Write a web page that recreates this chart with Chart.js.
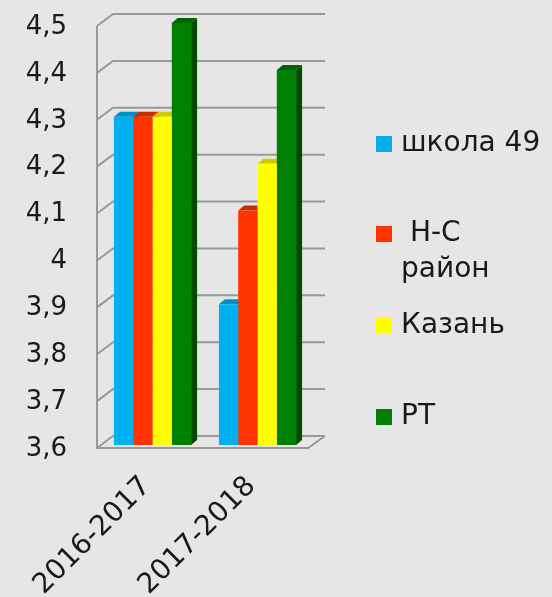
<!DOCTYPE html>
<html>
<head>
<meta charset="utf-8">
<script src="https://cdn.jsdelivr.net/npm/chart.js@4.4.0/dist/chart.umd.min.js"></script>
<style>
html,body{margin:0;padding:0;background:#e6e6e6;}
#wrap{width:552px;height:597px;position:relative;}
</style>
</head>
<body>
<div id="wrap"><canvas id="c"></canvas></div>
<script>
const categories = ['2016-2017', '2017-2018'];
const seriesNames = ['школа 49', ' Н-С район', 'Казань', 'РТ'];
const school49 = [4.3, 3.9];
const nsDistrict = [4.3, 4.1];
const kazan = [4.3, 4.2];
const rt = [4.5, 4.4];
const yTickLabels = ['3,6', '3,7', '3,8', '3,9', '4', '4,1', '4,2', '4,3', '4,4', '4,5'];

const frontColors = ['#00b0f0', '#ff3300', '#ffff00', '#008000'];
const topColors = ['#0090c8', '#cc2a00', '#cccc00', '#006400'];
const sideColors = ['#0078a8', '#a82200', '#a8a800', '#004d00'];
const FONT = 'DejaVu Sans';

const bgPlugin = {
  id: 'bg',
  beforeDraw(chart) {
    const ctx = chart.ctx;
    ctx.save();
    ctx.fillStyle = '#e6e6e6';
    ctx.fillRect(0, 0, chart.width, chart.height);
    ctx.restore();
  }
};

const wallPlugin = {
  id: 'wall',
  beforeDatasetsDraw(chart) {
    const ctx = chart.ctx;
    const y = chart.scales.y;
    const L = chart.chartArea.left, R = chart.chartArea.right;
    const B = chart.chartArea.bottom;
    ctx.save();
    ctx.strokeStyle = '#999999';
    ctx.lineWidth = 2;
    y.ticks.forEach(t => {
      const yp = y.getPixelForValue(t.value);
      ctx.beginPath();
      ctx.moveTo(L - 3, yp + 3);
      ctx.lineTo(L + 13, yp - 9);
      ctx.lineTo(R + 15, yp - 9);
      ctx.stroke();
    });
    const top = y.getPixelForValue(y.max) + 3;
    const bot = y.getPixelForValue(y.min) + 3;
    ctx.beginPath();
    ctx.moveTo(L - 3, top);
    ctx.lineTo(L - 3, bot);
    ctx.lineTo(R - 2, bot);
    ctx.lineTo(R + 15, bot - 12);
    ctx.stroke();
    const d = 6, dy = 5;
    chart.data.datasets.forEach((ds, i) => {
      const meta = chart.getDatasetMeta(i);
      meta.data.forEach(el => {
        const p = el.getProps(['x', 'y', 'base', 'width'], true);
        const base = Math.min(p.base, B);
        const l = p.x - p.width / 2, r = p.x + p.width / 2;
        ctx.fillStyle = sideColors[i];
        ctx.beginPath();
        ctx.moveTo(r, p.y);
        ctx.lineTo(r + d, p.y - dy);
        ctx.lineTo(r + d, base - dy);
        ctx.lineTo(r, base);
        ctx.closePath();
        ctx.fill();
        ctx.fillStyle = topColors[i];
        ctx.beginPath();
        ctx.moveTo(l, p.y);
        ctx.lineTo(l + d, p.y - dy);
        ctx.lineTo(r + d, p.y - dy);
        ctx.lineTo(r, p.y);
        ctx.closePath();
        ctx.fill();
      });
    });
    ctx.restore();
  }
};

const legendPlugin = {
  id: 'customLegend',
  afterDraw(chart) {
    const ctx = chart.ctx;
    ctx.save();
    ctx.font = '28px "' + FONT + '"';
    ctx.textBaseline = 'middle';
    const rows = [144, 234, 326, 417];
    const sqX = 376, txX = 401, lineH = 36, maxW = 140;
    chart.data.datasets.forEach((ds, i) => {
      const cy = rows[i];
      ctx.fillStyle = frontColors[i];
      ctx.fillRect(sqX, cy - 8, 16, 16);
      ctx.fillStyle = '#1a1a1a';
      const text = ds.label;
      const lines = [];
      if (ctx.measureText(text).width > maxW) {
        const idx = text.lastIndexOf(' ');
        lines.push(text.slice(0, idx));
        lines.push(text.slice(idx + 1));
      } else lines.push(text);
      lines.forEach((ln, k) => ctx.fillText(ln, txX, cy + k * lineH));
    });
    ctx.restore();
  }
};

const datasets = [school49, nsDistrict, kazan, rt].map((arr, i) => ({
  label: seriesNames[i],
  data: arr,
  backgroundColor: frontColors[i],
  borderWidth: 0,
  barPercentage: 1.0,
  categoryPercentage: 0.735
}));

new Chart(document.getElementById('c'), {
  type: 'bar',
  data: { labels: categories, datasets },
  options: {
    responsive: true,
    maintainAspectRatio: false,
    animation: false,
    layout: { padding: { top: 23, right: 242, left: 0, bottom: 0 } },
    plugins: { legend: { display: false }, tooltip: { enabled: false } },
    scales: {
      x: {
        grid: { display: false, drawTicks: false },
        border: { display: false },
        ticks: {
          minRotation: 45, maxRotation: 45,
          color: '#1a1a1a',
          font: { family: FONT, size: 28 },
          padding: 25,
          labelOffset: -6
        },
        afterFit(s) { s.height = 152; s.paddingLeft = 0; s.paddingRight = 0; }
      },
      y: {
        min: 3.6, max: 4.5,
        grid: { display: false, drawTicks: false },
        border: { display: false },
        ticks: {
          stepSize: 0.1,
          color: '#1a1a1a',
          font: { family: FONT, size: 26 },
          padding: 33,
          labelOffset: 4,
          callback: (v, i) => yTickLabels[i]
        },
        afterFit(s) { s.width = 100; s.paddingTop = 0; s.paddingBottom = 0; }
      }
    }
  },
  plugins: [bgPlugin, wallPlugin, legendPlugin]
});
</script>
</body>
</html>
